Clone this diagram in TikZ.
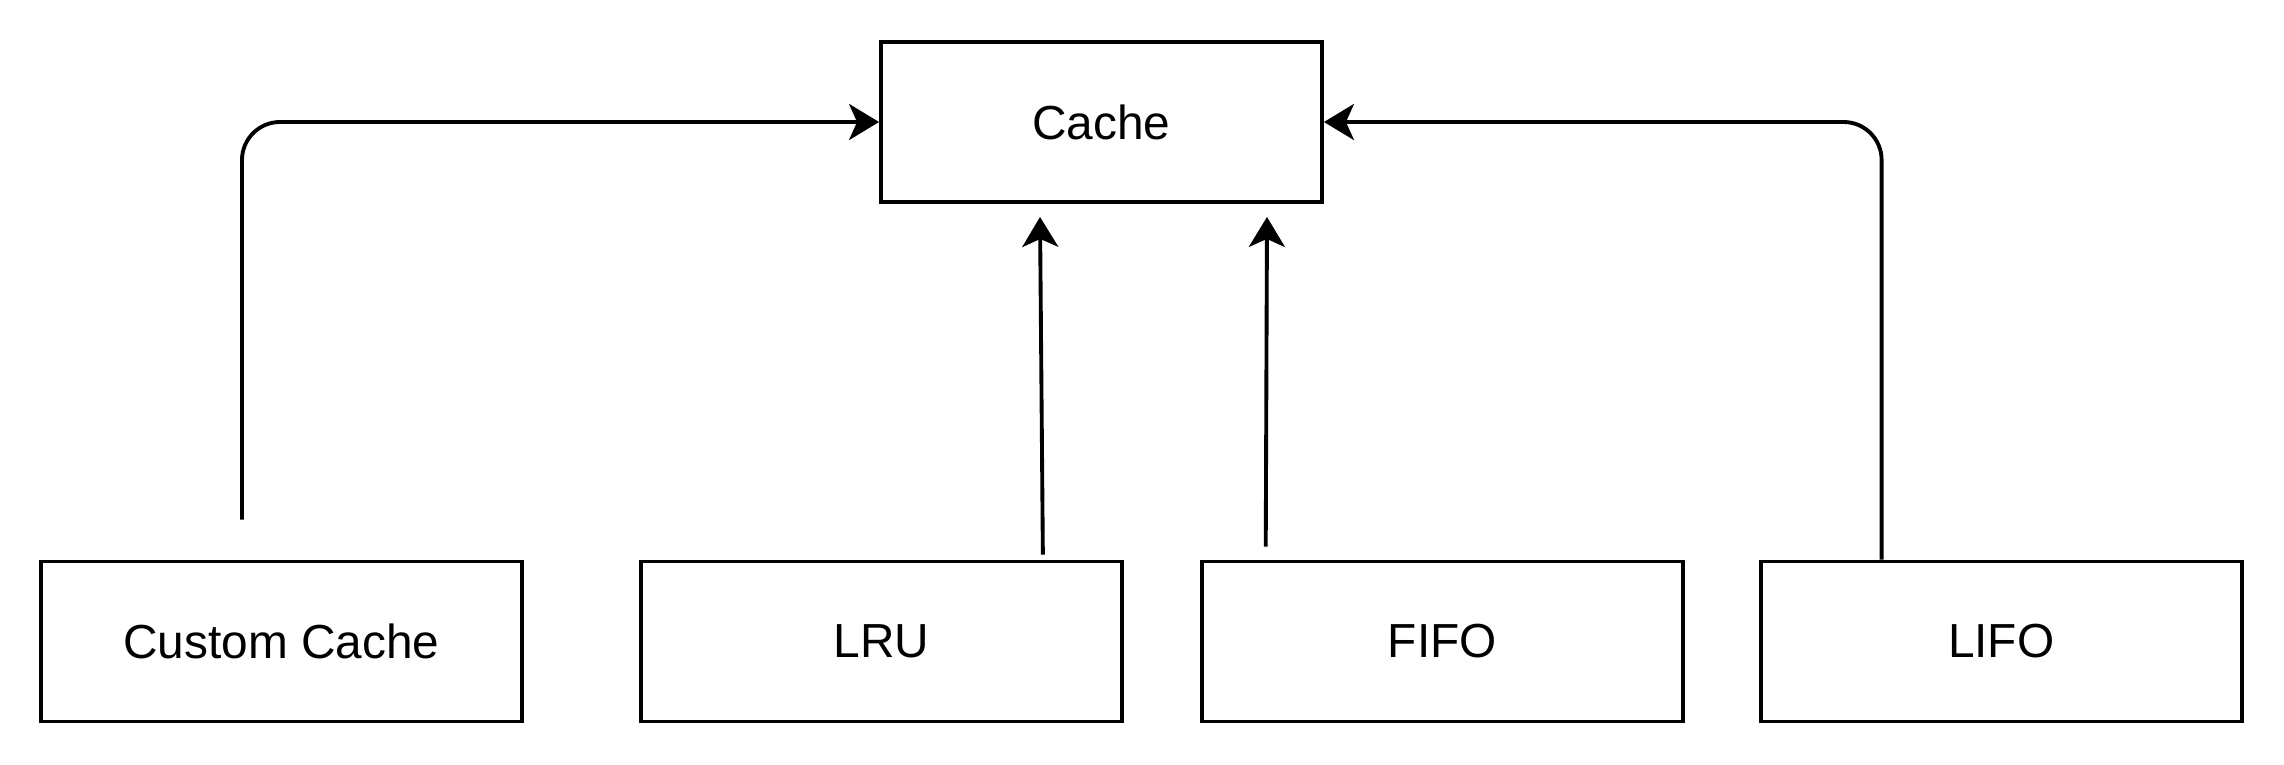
\documentclass[tikz,border=0pt]{standalone}
\usepackage{fontspec}
\setmainfont{Liberation Sans}
\usetikzlibrary{arrows.meta,positioning,calc}
\tikzset{
  classbox/.style={draw=black,line width=1.1pt,minimum width=4.81cm,minimum height=1.6cm,inner sep=0pt,align=center,font=\fontsize{13.6}{16}\selectfont},
  inherit/.style={-{Stealth[length=3mm,width=3.6mm,inset=0.8mm]},line width=1.1pt,draw=black},
  elbow/.style={inherit,rounded corners=3.8mm}
}
\begin{document}
\begin{tikzpicture}
\useasboundingbox (0,0) rectangle (22.84,7.64);
\node[classbox,minimum width=4.41cm] (cache) at (11.015,6.42) {Cache};
\node[classbox] (custom) at (2.815,1.225) {Custom Cache};
\node[classbox,right=1.15cm of custom] (lru) {LRU};
\node[classbox,right=0.76cm of lru] (fifo) {FIFO};
\node[classbox,right=0.74cm of fifo] (lifo) {LIFO};
% subclasses point up to the base class
\draw[elbow] ($(custom.north)+(-0.395,0.4)$) |- (cache.west);
\draw[inherit] ($(lru.north)+(1.615,0.05)$) -- ($(cache.south)+(-0.615,-0.13)$);
\draw[inherit] ($(fifo.north)+(-1.765,0.13)$) -- ($(cache.south)+(1.655,-0.13)$);
\draw[elbow] ($(lifo.north)+(-1.195,0)$) |- (cache.east);
\end{tikzpicture}
\end{document}
